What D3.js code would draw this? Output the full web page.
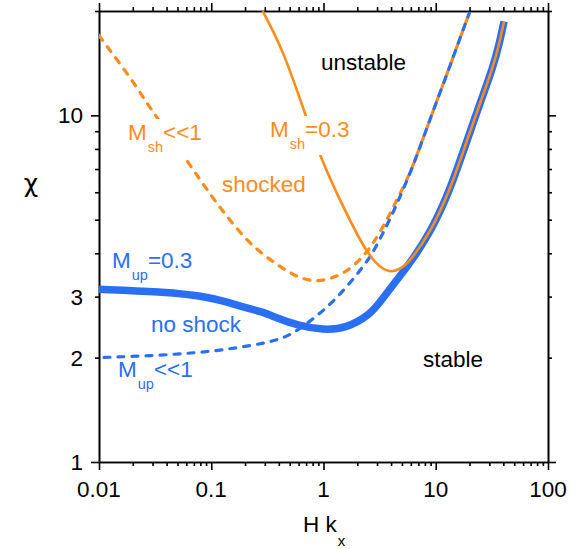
<!DOCTYPE html>
<html><head><meta charset="utf-8">
<script src="https://cdn.jsdelivr.net/npm/d3@7"></script>
<style>
body{margin:0;background:#fff}
text{font-family:"Liberation Sans",Arial,Helvetica,sans-serif}
</style>
</head><body>
<svg id="c" width="584" height="549"></svg>
<script>
// ---------- data ----------
const xTickLabels = [0.01, 0.1, 1, 10, 100];
const yTickLabels = [1, 2, 3, 10];

// M_up = 0.3 (no shock), thick blue
const upThickX = [0.01, 0.035, 0.0975, 0.19, 0.29, 0.385, 0.58, 1.0, 1.6, 2.6, 3.2, 4.5, 5.9, 8.9, 13.4, 18.6, 25.3, 32.4, 37.4, 40.6];
const upThickY = [3.15, 3.10, 3.0, 2.80, 2.71, 2.60, 2.48, 2.40, 2.43, 2.66, 2.90, 3.35, 3.75, 4.57, 6.08, 8.31, 11.05, 13.75, 16.45, 18.66];

// M_sh = 0.3 (shocked), solid orange
const shSolidX = [0.287, 0.439, 0.684, 0.964, 1.40, 2.26, 2.98, 3.91, 4.97, 5.9, 8.9, 13.4, 18.6, 25.3, 32.4, 37.4, 40.6];
const shSolidY = [20.0, 15.4, 10.1, 7.42, 5.69, 4.17, 3.70, 3.50, 3.62, 3.80, 4.57, 6.08, 8.31, 11.05, 13.75, 16.45, 18.66];

// M_sh << 1 (shocked), dashed orange
const shDashX = [0.01, 0.0125, 0.0189, 0.0257, 0.0327, 0.0604, 0.104, 0.147, 0.207, 0.291, 0.41, 0.577, 0.811, 1.14, 1.61, 2.26, 2.78, 3.66, 4.49, 5.90, 7.24, 9.51, 11.7, 14.3, 17.0, 19.9];
const shDashY = [17.0, 15.4, 12.9, 11.05, 9.89, 7.42, 5.75, 4.98, 4.36, 3.96, 3.66, 3.42, 3.31, 3.37, 3.53, 3.91, 4.27, 4.98, 5.69, 6.79, 8.10, 10.34, 12.34, 14.72, 17.2, 19.7];

// M_up << 1 (no shock), dashed blue
const upDashX = [0.01, 0.035, 0.0975, 0.193, 0.291, 0.385, 0.503, 0.758, 1.14, 1.61, 2.26, 2.78, 3.41, 4.19, 5.90, 7.24, 9.51, 11.7, 14.3, 17.0, 19.9];
const upDashY = [2.0, 2.03, 2.08, 2.15, 2.20, 2.25, 2.32, 2.54, 2.84, 3.20, 3.66, 4.03, 4.60, 5.25, 6.79, 8.10, 10.34, 12.34, 14.72, 17.2, 19.7];

const ORANGE = "#ff8c1a", BLUE = "#2a6ff2";

// ---------- scales ----------
const svg = d3.select("#c");
const x = d3.scaleLog().domain([0.01, 100]).range([99, 548]);
const y = d3.scaleLog().domain([1, 20]).range([462, 11]);

svg.append("defs").append("clipPath").attr("id", "plot")
  .append("rect").attr("x", 99).attr("y", 11).attr("width", 449).attr("height", 451);

// ---------- axes ----------
function drawAxis(gen, tr, vals, size) {
  const g = svg.append("g").attr("transform", tr)
    .call(gen.tickValues(vals).tickSize(size).tickSizeOuter(0).tickFormat(""));
  g.selectAll("path,line").attr("stroke", "#000").attr("stroke-width", 1.6);
  return g;
}
const xMajor = xTickLabels;
const xMinor = x.ticks().filter(v => !xMajor.some(m => Math.abs(m - v) / m < 1e-6));
const yMajor = [1, 10];
const yMinor = y.ticks().filter(v => !yMajor.some(m => Math.abs(m - v) / m < 1e-6));

[[d3.axisBottom, "translate(0,462)"], [d3.axisTop, "translate(0,11)"]].forEach(([f, t]) => {
  drawAxis(f(x), t, xMinor, 4);
  drawAxis(f(x), t, xMajor, 8);
});
[[d3.axisLeft, "translate(99,0)"], [d3.axisRight, "translate(548,0)"]].forEach(([f, t]) => {
  drawAxis(f(y), t, yMinor, 4);
  drawAxis(f(y), t, yMajor, 8);
});

// tick labels
svg.append("g").selectAll("text").data(xTickLabels).join("text")
  .attr("x", d => x(d)).attr("y", 497).attr("text-anchor", "middle")
  .attr("font-size", 22.5).attr("fill", "#000").text(d => d);
svg.append("g").selectAll("text").data(yTickLabels).join("text")
  .attr("x", 83).attr("y", d => y(d)).attr("dy", "0.36em").attr("text-anchor", "end")
  .attr("font-size", 22.5).attr("fill", "#000").text(d => d);

// axis titles
const xt = svg.append("text").attr("x", 303).attr("y", 532).attr("font-size", 22.5).attr("fill", "#000");
xt.append("tspan").text("H k");
xt.append("tspan").attr("font-size", 15).attr("dy", 14).attr("dx", 1).text("x");
svg.append("text").attr("x", 31).attr("y", 192).attr("text-anchor", "middle")
  .style("font-family", "'DejaVu Sans', sans-serif")
  .attr("font-size", 25).attr("fill", "#000").text("χ");

// ---------- curves ----------
const plot = svg.append("g").attr("clip-path", "url(#plot)");
const line = d3.line().x(d => x(d[0])).y(d => y(d[1])).curve(d3.curveBasis);
const zipXY = (a, b) => a.map((v, i) => [v, b[i]]);

const period = 14;
const oDash = plot.append("path").attr("d", line(zipXY(shDashX, shDashY)))
  .attr("fill", "none").attr("stroke", ORANGE).attr("stroke-width", 3.2)
  .attr("stroke-linecap", "round").attr("stroke-dasharray", "6,8");
const bDash = plot.append("path").attr("d", line(zipXY(upDashX, upDashY)))
  .attr("fill", "none").attr("stroke", BLUE).attr("stroke-width", 3.2)
  .attr("stroke-linecap", "round").attr("stroke-dasharray", "6,8");

// align blue dashes into orange gaps on the shared branch
function lengthAtX(path, px) {
  const node = path.node(), L = node.getTotalLength();
  let lo = 0, hi = L;
  for (let i = 0; i < 40; i++) {
    const mid = (lo + hi) / 2;
    if (node.getPointAtLength(mid).x < px) lo = mid; else hi = mid;
  }
  return (lo + hi) / 2;
}
const mergePx = x(9.51);
const lo = lengthAtX(oDash, mergePx), lb = lengthAtX(bDash, mergePx);
bDash.attr("stroke-dashoffset", ((lo - lb - 7) % period + period) % period);

plot.append("path").attr("d", line(zipXY(upThickX, upThickY)))
  .attr("fill", "none").attr("stroke", BLUE).attr("stroke-width", 7.5)
  .attr("stroke-linecap", "butt");
plot.append("path").attr("d", line(zipXY(shSolidX, shSolidY)))
  .attr("fill", "none").attr("stroke", ORANGE).attr("stroke-width", 2.6)
  .attr("stroke-linecap", "butt");

// ---------- annotations ----------
function subLabel(px, py, main, sub, rest, color, bg) {
  const g = svg.append("g");
  const t = g.append("text").attr("x", px).attr("y", py).attr("font-size", 22.5).attr("fill", color);
  t.append("tspan").text(main);
  t.append("tspan").attr("font-size", 14.5).attr("dy", 12).attr("dx", 1).text(sub);
  t.append("tspan").attr("dy", -12).text(rest);
  if (bg) {
    const b = t.node().getBBox();
    g.insert("rect", "text").attr("x", b.x - 2).attr("y", b.y - 1)
      .attr("width", b.width + 4).attr("height", b.height + 4).attr("fill", "#fff");
  }
}
subLabel(128, 140, "M", "sh", "<<1", ORANGE, true);
subLabel(270, 137, "M", "sh", "=0.3", ORANGE, true);
subLabel(112, 268, "M", "up", "=0.3", BLUE, false);
subLabel(118, 377, "M", "up", "<<1", BLUE, false);

const plain = [
  ["unstable", 321, 70, "#000"],
  ["stable", 423, 367, "#000"],
  ["shocked", 222, 192, ORANGE],
  ["no shock", 151, 332, BLUE]
];
svg.append("g").selectAll("text").data(plain).join("text")
  .attr("x", d => d[1]).attr("y", d => d[2]).attr("fill", d => d[3])
  .attr("font-size", 22.5).text(d => d[0]);
</script>
</body></html>
